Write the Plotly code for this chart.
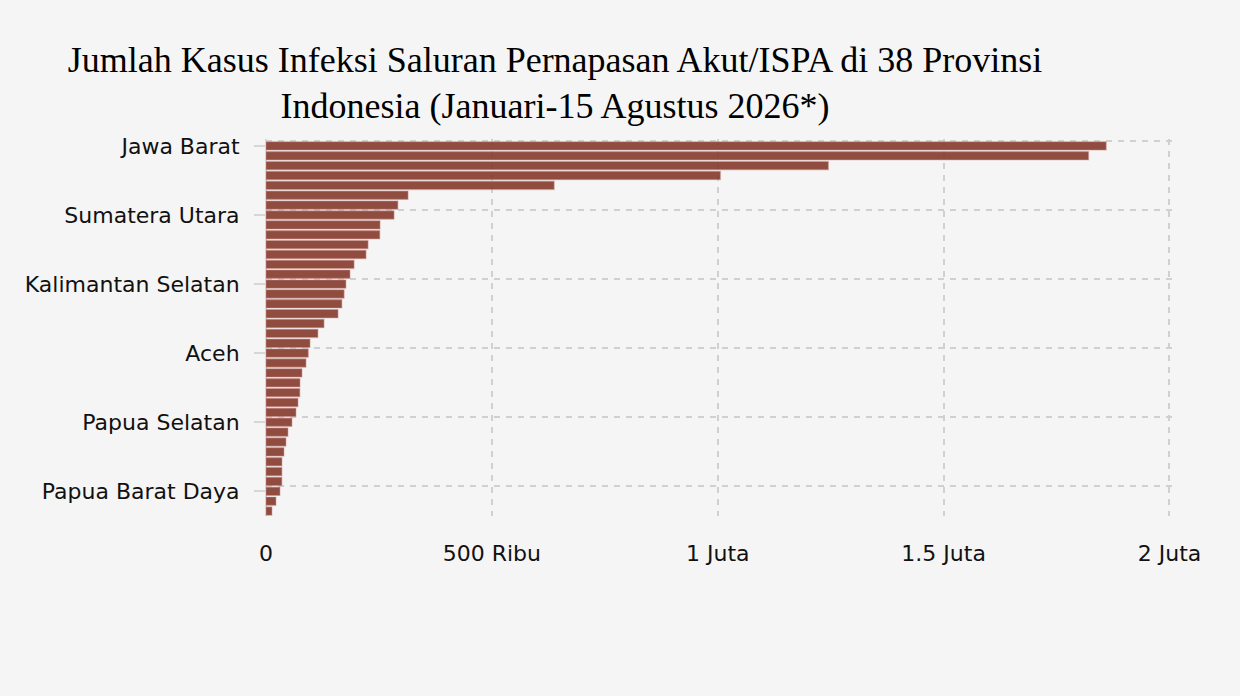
import plotly.graph_objects as go

provinces = [
    "Jawa Barat", "Jawa Timur", "Jawa Tengah", "DKI Jakarta", "Banten",
    "Sulawesi Selatan", "Nusa Tenggara Timur", "Sumatera Utara", "Sumatera Selatan", "Lampung",
    "Nusa Tenggara Barat", "Riau", "Kalimantan Barat", "Bali", "Kalimantan Selatan",
    "Kalimantan Timur", "Sulawesi Tengah", "DI Yogyakarta", "Sumatera Barat", "Jambi",
    "Sulawesi Tenggara", "Aceh", "Kalimantan Tengah", "Bengkulu", "Sulawesi Utara",
    "Kepulauan Riau", "Maluku", "Gorontalo", "Papua Selatan", "Sulawesi Barat",
    "Papua", "Maluku Utara", "Kepulauan Bangka Belitung", "Papua Tengah", "Kalimantan Utara",
    "Papua Barat Daya", "Papua Pegunungan", "Papua Barat",
]

cases = [
    1860000, 1821000, 1245000, 1006000, 638000,
    314500, 292000, 283500, 252500, 252000,
    226000, 221500, 195000, 186000, 177000,
    173000, 168000, 159500, 128500, 115000,
    97500, 93700, 88600, 79700, 75300,
    75000, 70900, 66400, 57600, 48700,
    44300, 39900, 35400, 35300, 35200,
    31000, 22100, 13300,
]

x_tickvals = [0, 500000, 1000000, 1500000, 2000000]
x_ticktext = ["0", "500 Ribu", "1 Juta", "1.5 Juta", "2 Juta"]

label_step = 7
y_tickvals = provinces[::label_step]
n = len(provinces)
grid_vals = [i - 0.5 for i in range(0, n, label_step)]
y_range = [n - 0.5, -0.7]

GRID = "#D0D0D0"
DASH = "6px,6px"

fig = go.Figure()
fig.add_trace(go.Bar(
    x=cases, y=provinces, orientation="h",
    marker=dict(color="rgba(130,52,38,0.88)",
                line=dict(color="rgba(210,150,150,0.45)", width=1.2)),
    showlegend=False,
))
# invisible companion trace so the grid axis (y2) is drawn
fig.add_trace(go.Scatter(
    x=cases, y=list(range(n)), yaxis="y2", mode="none",
    hoverinfo="skip", showlegend=False,
))

tickfont = dict(family="DejaVu Sans", size=22, color="#111111")

fig.update_layout(
    width=1240, height=696,
    paper_bgcolor="#F5F5F5", plot_bgcolor="#F5F5F5",
    margin=dict(l=266, r=66, t=139, b=180, autoexpand=False),
    bargap=0.15,
    title=dict(
        text="Jumlah Kasus Infeksi Saluran Pernapasan Akut/ISPA di 38 Provinsi<br>Indonesia (Januari-15 Agustus 2026*)",
        font=dict(family="Liberation Serif", size=36, color="#000000"),
        x=0.4476, xanchor="center", xref="container",
        y=0.897, yanchor="top", yref="container",
    ),
    xaxis=dict(
        range=[0, 2010000],
        tickmode="array", tickvals=x_tickvals, ticktext=x_ticktext,
        tickfont=tickfont,
        showgrid=True, gridcolor=GRID, griddash=DASH, gridwidth=2,
        zeroline=True, zerolinecolor="#D6D6D6", zerolinewidth=2,
        ticks="", ticklabelstandoff=22,
        showline=False,
    ),
    yaxis=dict(
        type="category", categoryorder="array", categoryarray=provinces,
        range=y_range,
        tickmode="array", tickvals=y_tickvals,
        tickfont=tickfont,
        ticks="outside", ticklen=11, tickcolor="#D6D6D6", tickwidth=2,
        showgrid=False, zeroline=False, showline=False,
        ticklabelstandoff=10,
    ),
    yaxis2=dict(
        overlaying="y", side="left", anchor="x",
        range=y_range,
        tickmode="array", tickvals=grid_vals,
        showticklabels=False, ticks="",
        showgrid=True, gridcolor=GRID, griddash=DASH, gridwidth=2,
        zeroline=False, showline=False,
    ),
)

fig.write_html("out.html", config={"displayModeBar": False},
               post_script="document.body.style.margin='0px';")
